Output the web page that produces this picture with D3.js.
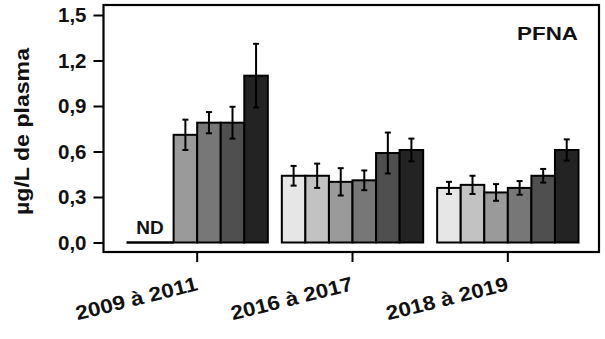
<!DOCTYPE html>
<html>
<head>
<meta charset="utf-8">
<script src="https://cdn.jsdelivr.net/npm/d3@7"></script>
<style>
  html, body { margin: 0; padding: 0; background: #fff; }
  svg { display: block; font-family: "Liberation Sans", Arial, sans-serif; }
</style>
</head>
<body>
<svg id="chart" width="605" height="339"></svg>
<script>
// Sampling periods (x categories)
const periods = ["2009 à 2011", "2016 à 2017", "2018 à 2019"];
// Six sub-groups per period; null = not determined (ND)
const seriesKeys = ["s1", "s2", "s3", "s4", "s5", "s6"];
const seriesColors = ["#e6e6e6", "#c2c2c2", "#9a9a9a", "#777777", "#4f4f4f", "#232323"];
// Mean concentrations (µg/L de plasma), one array per period
const values2009 = [null, null, 0.71, 0.79, 0.79, 1.10];
const values2016 = [0.44, 0.44, 0.40, 0.41, 0.59, 0.61];
const values2018 = [0.36, 0.38, 0.33, 0.36, 0.44, 0.61];
// Error bar half-widths
const errors2009 = [null, null, 0.10, 0.07, 0.105, 0.21];
const errors2016 = [0.065, 0.08, 0.09, 0.065, 0.135, 0.075];
const errors2018 = [0.04, 0.06, 0.055, 0.045, 0.045, 0.07];
// Axis ticks
const yTicks = [0, 0.3, 0.6, 0.9, 1.2, 1.5];
const yLabel = "µg/L de plasma";
const panelTitle = "PFNA";
const ndLabel = "ND";

const valuesByPeriod = [values2009, values2016, values2018];
const errorsByPeriod = [errors2009, errors2016, errors2018];
const rows = [];
periods.forEach((p, i) => {
  seriesKeys.forEach((k, j) => {
    rows.push({ period: p, key: k, value: valuesByPeriod[i][j], err: errorsByPeriod[i][j], color: seriesColors[j] });
  });
});

const svg = d3.select("#chart");
const frame = { left: 103.5, top: 5, right: 599, bottom: 252 };

const y = d3.scaleLinear().domain([0, 1.5]).range([242.5, 15]);
const x = d3.scaleBand().domain(periods).range([119.5, 585.5]).paddingInner(0.09).paddingOuter(0.045);
const xi = d3.scaleBand().domain(seriesKeys).range([0, x.bandwidth()]);

// Bars
const groups = svg.selectAll("g.period").data(periods).join("g")
  .attr("class", "period")
  .attr("transform", d => `translate(${x(d)},0)`);

groups.selectAll("rect").data(p => rows.filter(r => r.period === p && r.value !== null)).join("rect")
  .attr("x", d => xi(d.key))
  .attr("y", d => y(d.value))
  .attr("width", xi.bandwidth())
  .attr("height", d => y(0) - y(d.value))
  .attr("fill", d => d.color)
  .attr("stroke", "#000")
  .attr("stroke-width", 2);

// Error bars
const eb = groups.selectAll("g.err").data(p => rows.filter(r => r.period === p && r.value !== null)).join("g")
  .attr("class", "err")
  .attr("transform", d => `translate(${xi(d.key) + xi.bandwidth() / 2},0)`)
  .attr("stroke", "#000")
  .attr("stroke-width", 2);
eb.append("line").attr("x1", 0).attr("x2", 0)
  .attr("y1", d => y(d.value + d.err)).attr("y2", d => y(d.value - d.err));
eb.append("line").attr("x1", -3).attr("x2", 3)
  .attr("y1", d => y(d.value + d.err)).attr("y2", d => y(d.value + d.err));
eb.append("line").attr("x1", -3).attr("x2", 3)
  .attr("y1", d => y(d.value - d.err)).attr("y2", d => y(d.value - d.err));

// ND baseline and label for undetermined sub-groups
groups.each(function (p) {
  const nd = rows.filter(r => r.period === p && r.value === null);
  if (!nd.length) return;
  const g = d3.select(this);
  const x0 = xi(nd[0].key), x1 = xi(nd[nd.length - 1].key) + xi.bandwidth();
  g.append("line").attr("x1", x0).attr("x2", x1).attr("y1", y(0)).attr("y2", y(0))
    .attr("stroke", "#000").attr("stroke-width", 2.5);
  g.append("text").attr("x", (x0 + x1) / 2).attr("y", y(0) - 8.5)
    .attr("text-anchor", "middle").attr("font-size", 19).attr("font-weight", "bold")
    .attr("fill", "#111").text(ndLabel);
});

// Frame
svg.append("rect")
  .attr("x", frame.left).attr("y", frame.top)
  .attr("width", frame.right - frame.left).attr("height", frame.bottom - frame.top)
  .attr("fill", "none").attr("stroke", "#000").attr("stroke-width", 2.2);

// Y axis
const yAxis = svg.append("g").attr("transform", `translate(${frame.left},0)`)
  .call(d3.axisLeft(y).tickValues(yTicks).tickSize(10).tickPadding(7)
    .tickFormat(d => d3.format(".1f")(d).replace(".", ",")));
yAxis.select(".domain").remove();
yAxis.selectAll(".tick line").attr("stroke", "#000").attr("stroke-width", 2);
yAxis.selectAll(".tick text").attr("font-size", 20.5).attr("font-weight", "bold")
  .attr("font-family", "Liberation Sans, Arial, sans-serif").attr("fill", "#111");

// X axis
const xAxis = svg.append("g").attr("transform", `translate(0,${frame.bottom})`)
  .call(d3.axisBottom(x).tickSize(10).tickFormat(""));
xAxis.select(".domain").remove();
xAxis.selectAll(".tick line").attr("stroke", "#000").attr("stroke-width", 2);

svg.append("g").selectAll("text").data(periods).join("text")
  .attr("transform", d => `translate(${x(d) + x.bandwidth() / 2 + 1.5},290) rotate(-14)`)
  .attr("text-anchor", "end")
  .attr("font-size", 20).attr("font-weight", "bold").attr("fill", "#111")
  .attr("textLength", 125).attr("lengthAdjust", "spacingAndGlyphs")
  .text(d => d);

// Y axis title
svg.append("text")
  .attr("transform", "translate(29,131.5) rotate(-90)")
  .attr("text-anchor", "middle")
  .attr("font-size", 20).attr("font-weight", "bold").attr("fill", "#111")
  .attr("textLength", 167).attr("lengthAdjust", "spacingAndGlyphs")
  .text(yLabel);

// Panel title
svg.append("text")
  .attr("x", 578).attr("y", 40)
  .attr("text-anchor", "end")
  .attr("font-size", 19).attr("font-weight", "bold").attr("fill", "#111")
  .attr("textLength", 61).attr("lengthAdjust", "spacingAndGlyphs")
  .text(panelTitle);
</script>
</body>
</html>
